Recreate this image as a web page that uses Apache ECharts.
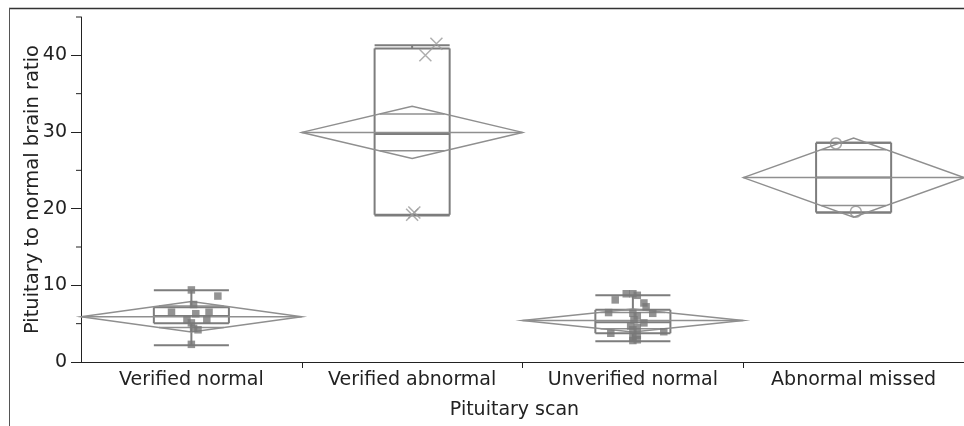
<!DOCTYPE html>
<html>
<head>
<meta charset="UTF-8">
<title>Pituitary scan</title>
<script src="https://cdn.jsdelivr.net/npm/echarts@6/dist/echarts.min.js"></script>
<style>html,body,#container{width:100%;height:100%;margin:0;padding:0;background:#fff;}</style>
</head>
<body>
<div id="container"></div>
<script>
var categories = ['Verified normal', 'Verified abnormal', 'Unverified normal', 'Abnormal missed'];
var yTicks = [0, 10, 20, 30, 40];
var yMinorTicks = [5, 15, 25, 35, 45];

// box plot + means diamond stats, per category
var whiskerLow = [2.2, 19.1, 2.7, 19.5];
var q1 = [5.05, 19.2, 3.75, 19.5];
var median = [6.0, 29.75, 5.2, 24.05];
var q3 = [7.15, 40.9, 6.8, 28.6];
var whiskerHigh = [9.35, 41.3, 8.7, 28.6];
var means = [5.9, 29.95, 5.4, 24.05];
var ciHalf = [2.0, 3.4, 1.5, 5.15];

// points: [jitter offset from category centre, value]
var verifiedNormal = [[0.00, 9.4], [0.12, 8.6], [0.01, 7.5], [-0.09, 6.5], [0.08, 6.5], [0.02, 6.3],
  [-0.02, 5.5], [0.07, 5.5], [0.00, 5.1], [0.01, 4.4], [0.03, 4.2], [0.00, 2.3]];
var verifiedAbnormal = [[0.11, 41.5], [0.06, 40.0], [0.01, 19.5], [0.00, 19.2]];
var unverifiedNormal = [[-0.03, 8.9], [0.00, 8.9], [0.02, 8.7], [-0.08, 8.1], [0.05, 7.7], [0.06, 7.2],
  [-0.11, 6.45], [0.00, 6.35], [0.09, 6.35], [0.02, 6.0], [0.005, 5.5], [0.05, 5.1], [-0.01, 4.7],
  [0.02, 4.5], [0.00, 4.2], [0.14, 3.95], [-0.10, 3.75], [0.02, 3.5], [0.00, 3.2], [0.02, 2.9], [0.00, 2.8]];
var abnormalMissed = [[-0.08, 28.5], [0.01, 19.6]];

function place(points, idx) {
  return points.map(function (p) { return [idx + 0.5 + p[0], p[1]]; });
}

var groupData = categories.map(function (c, i) {
  return [i, whiskerLow[i], q1[i], median[i], q3[i], whiskerHigh[i], means[i], ciHalf[i]];
});

function renderGroup(params, api) {
  var i = api.value(0);
  var c = i + 0.5, bw = 0.17;
  var lo = api.value(1), b1 = api.value(2), md = api.value(3), b3 = api.value(4), hi = api.value(5);
  var mn = api.value(6), h = api.value(7);
  var boxStyle = { stroke: '#7d7d7d', lineWidth: 2, fill: null };
  var diaStyle = { stroke: '#8f8f8f', lineWidth: 1.5, fill: null };
  var children = [];
  function line(x1, y1, x2, y2, style) {
    var a = api.coord([x1, y1]), b = api.coord([x2, y2]);
    children.push({ type: 'line', shape: { x1: a[0], y1: a[1], x2: b[0], y2: b[1] }, style: style });
  }
  // whiskers and caps
  line(c, lo, c, b1, boxStyle);
  line(c, b3, c, hi, boxStyle);
  line(c - bw, lo, c + bw, lo, boxStyle);
  line(c - bw, hi, c + bw, hi, boxStyle);
  // box
  line(c - bw, b1, c + bw, b1, boxStyle);
  line(c - bw, b3, c + bw, b3, boxStyle);
  line(c - bw, b1, c - bw, b3, boxStyle);
  line(c + bw, b1, c + bw, b3, boxStyle);
  line(c - bw, md, c + bw, md, boxStyle);
  // means diamond
  var pts = [[i, mn], [c, mn + h], [i + 1, mn], [c, mn - h]].map(function (p) { return api.coord(p); });
  children.push({ type: 'polygon', shape: { points: pts }, style: diaStyle });
  line(i, mn, i + 1, mn, diaStyle);
  // overlap marks
  var o = h / Math.SQRT2, ow = 0.5 * (1 - 1 / Math.SQRT2);
  line(c - ow, mn + o, c + ow, mn + o, diaStyle);
  line(c - ow, mn - o, c + ow, mn - o, diaStyle);
  return { type: 'group', children: children };
}

function renderMinorTick(params, api) {
  var p = api.coord([0, api.value(0)]);
  return { type: 'line', shape: { x1: p[0] - 5, y1: p[1], x2: p[0], y2: p[1] }, style: { stroke: '#222', lineWidth: 1 } };
}

var font = 'DejaVu Sans';
var chart = echarts.init(document.getElementById('container'));
chart.setOption({
  backgroundColor: '#fff',
  animation: false,
  graphic: [
    { type: 'line', shape: { x1: 9, y1: 8.5, x2: 964, y2: 8.5 }, style: { stroke: '#333', lineWidth: 1.5 } },
    { type: 'line', shape: { x1: 9.5, y1: 8, x2: 9.5, y2: 426 }, style: { stroke: '#555', lineWidth: 1 } }
  ],
  grid: { left: 81, right: 0, top: 17, bottom: 64 },
  xAxis: {
    type: 'value', min: 0, max: 4,
    splitLine: { show: false },
    axisLine: { lineStyle: { color: '#222', width: 1 } },
    axisTick: { customValues: [1, 2, 3], length: 6, lineStyle: { color: '#222' } },
    axisLabel: {
      customValues: [0.5, 1.5, 2.5, 3.5], margin: 9,
      fontFamily: font, fontSize: 19, color: '#222',
      formatter: function (v) { return categories[Math.floor(v)]; }
    },
    name: 'Pituitary scan', nameLocation: 'middle', nameGap: 39, nameMoveOverlap: false,
    nameTextStyle: { fontFamily: font, fontSize: 19, color: '#222', padding: [0, 16, 0, 0] }
  },
  yAxis: {
    type: 'value', min: 0, max: 45,
    splitLine: { show: false },
    axisLine: { show: true, lineStyle: { color: '#222', width: 1 } },
    axisTick: { show: true, customValues: yTicks, length: 10, lineStyle: { color: '#222' } },
    axisLabel: { customValues: yTicks, margin: 14, fontFamily: font, fontSize: 19, color: '#222' },
    name: 'Pituitary to normal brain ratio', nameLocation: 'middle', nameGap: 38, nameRotate: 90,
    nameMoveOverlap: false,
    nameTextStyle: { fontFamily: font, fontSize: 19.5, color: '#222' }
  },
  series: [
    { type: 'custom', renderItem: renderMinorTick, data: yMinorTicks.map(function (v) { return [v]; }), encode: { y: 0 }, clip: false, silent: true },
    { type: 'custom', renderItem: renderGroup, data: groupData, encode: { x: 0, y: [1, 5] }, clip: false, silent: true, z: 2 },
    { type: 'scatter', data: place(verifiedNormal, 0), symbol: 'rect', symbolSize: 7.5, itemStyle: { color: '#787878' }, z: 3 },
    { type: 'scatter', data: place(verifiedAbnormal, 1), symbol: 'path://M0,0L10,10M10,0L0,10', symbolSize: 12,
      itemStyle: { color: 'none', borderColor: '#9a9a9a', borderWidth: 1.5 }, z: 3 },
    { type: 'scatter', data: place(unverifiedNormal, 2), symbol: 'rect', symbolSize: 7.5, itemStyle: { color: '#787878' }, z: 3 },
    { type: 'scatter', data: place(abnormalMissed, 3), symbol: 'circle', symbolSize: 11,
      itemStyle: { color: 'none', borderColor: '#909090', borderWidth: 1.5 }, z: 3 }
  ]
});
</script>
</body>
</html>
